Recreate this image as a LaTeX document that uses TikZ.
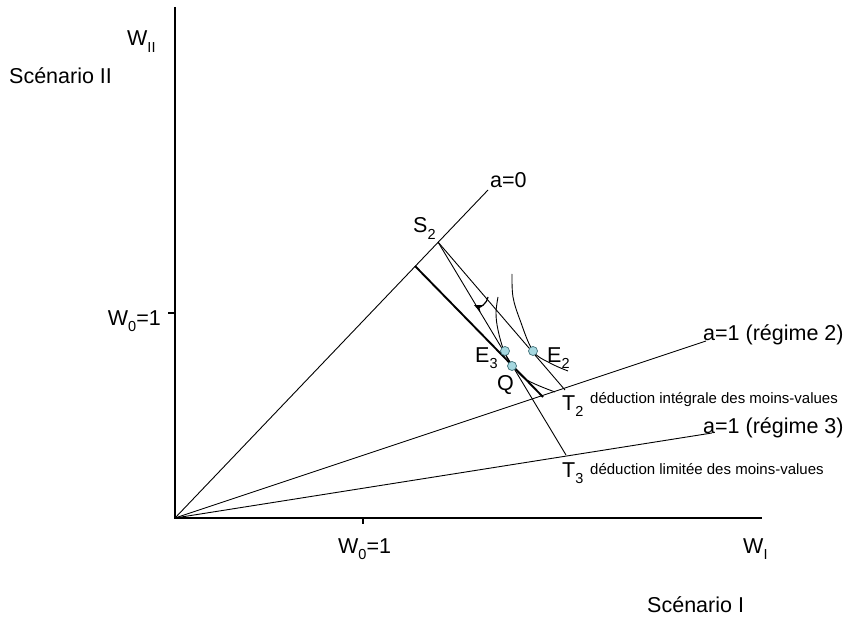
\documentclass[tikz,border=0pt]{standalone}
\usepackage{fontspec}
\setmainfont{Liberation Sans}
\usetikzlibrary{arrows.meta}
\newcommand{\sbx}[1]{\raisebox{-0.3em}{\fontsize{14.5}{15}\selectfont #1}}
\definecolor{dotfill}{HTML}{A6D8E0}
\definecolor{dotline}{HTML}{3F6F78}
\tikzset{
  lbl/.style={inner sep=0pt, anchor=base west, font=\fontsize{21.5}{24}\selectfont},
  lble/.style={lbl, anchor=base east},
  small/.style={inner sep=0pt, anchor=base west, font=\fontsize{15}{17}\selectfont},
  thin line/.style={line width=0.9pt, black},
  axis/.style={line width=1.1pt, black},
  budget/.style={line width=1.9pt, black},
  pt/.style={circle, draw=dotline, fill=dotfill, line width=0.7pt, minimum size=9pt, inner sep=0pt}
}
\begin{document}
\begin{tikzpicture}[x=1pt,y=-1pt]
\useasboundingbox (0,0) rectangle (851,620);
% key coordinates
\coordinate (O) at (175,518);
\coordinate (Ytop) at (175,7);
\coordinate (Xend) at (762,518);
\coordinate (Yt1) at (168,313);
\coordinate (Yt0) at (175,313);
\coordinate (Xt0) at (363,518);
\coordinate (Xt1) at (363,524);
\coordinate (A0end) at (488,190);
\coordinate (R2end) at (706,341);
\coordinate (R3end) at (712,433);
\coordinate (S2) at (438,242);
\coordinate (T2pt) at (565,390);
\coordinate (T3pt) at (566,455);
\coordinate (Bstart) at (415,266);
\coordinate (Bend) at (543,397);
\coordinate (Ar1) at (488,297);
\coordinate (Ar2) at (474,305);
% axes
\draw[axis] (Ytop) -- (O) -- (Xend);
\draw[axis] (Yt1) -- (Yt0);
\draw[axis] (Xt0) -- (Xt1);
% rays
\draw[thin line] (O) -- (A0end);
\draw[thin line] (O) -- (R2end);
\draw[thin line] (O) -- (R3end);
% budget lines
\draw[thin line] (S2) -- (T2pt);
\draw[thin line] (S2) -- (T3pt);
\draw[budget] (Bstart) -- (Bend);
% indifference curves
\draw[thin line] plot[smooth, tension=0.6] coordinates {(512,274) (513,297) (520,320) (533,351) (550,363) (568,371)};
\draw[thin line] plot[smooth, tension=0.6] coordinates {(498,297) (496,313) (498,330) (504,351) (512,365) (527,380) (555,392)};
% rotation arrow
\draw[line width=1.2pt, -{Stealth[length=9pt,width=8pt]}] (Ar1) to[bend left=55] (Ar2);
% points
\node[pt] (E2) at (533,351) {};
\node[pt] (E3) at (505,351) {};
\node[pt] (Q) at (512,366) {};
% labels
\node[lbl] (scII) at (9,84) {Scénario II};
\node[lbl] (wII) at (127,46) {W\sbx{II}};
\node[lble] (w0y) at (161,325) {W\sbx{0}=1};
\node[lbl] (w0x) at (338,553) {W\sbx{0}=1};
\node[lbl] (wI) at (743,553) {W\sbx{I}};
\node[lbl] (scI) at (647,612) {Scénario I};
\node[lbl] (a0) at (490,188) {a=0};
\node[lbl] (s2l) at (413,233) {S\sbx{2}};
\node[lbl] (e3l) at (475,362) {E\sbx{3}};
\node[lbl] (ql) at (497,390) {Q};
\node[lbl] (e2l) at (547,362) {E\sbx{2}};
\node[lbl] (r2l) at (703,340) {a=1 (régime 2)};
\node[lbl] (r3l) at (703,433) {a=1 (régime 3)};
\node[lbl] (t2l) at (562,410) {T\sbx{2}};
\node[small] (d2) at (590,403) {déduction intégrale des moins-values};
\node[lbl] (t3l) at (562,477) {T\sbx{3}};
\node[small] (d3) at (590,474) {déduction limitée des moins-values};
\end{tikzpicture}
\end{document}
